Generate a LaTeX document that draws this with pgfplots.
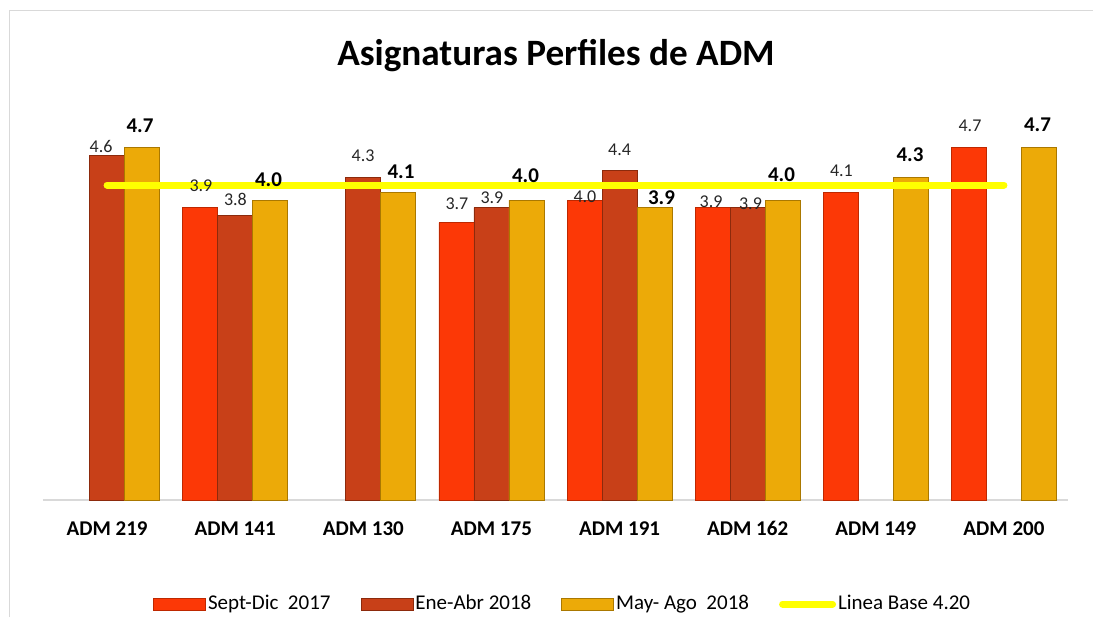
\documentclass[border=0pt]{standalone}
\usepackage{fontspec}
\setmainfont{Carlito}
\usepackage{pgfplots}
\pgfplotsset{compat=1.18}
\definecolor{cSep}{RGB}{252,56,6}
\definecolor{cSepD}{RGB}{190,40,0}
\definecolor{cEne}{RGB}{200,64,24}
\definecolor{cEneD}{RGB}{140,42,12}
\definecolor{cMay}{RGB}{236,170,8}
\definecolor{cMayD}{RGB}{170,120,0}
\definecolor{cBorder}{RGB}{217,217,217}
\definecolor{cLine}{RGB}{255,255,0}
\begin{document}
\begin{tikzpicture}
\useasboundingbox (0,0) rectangle (546.5pt,308.5pt);
\draw[cBorder, line width=0.8pt] (4.75pt,0pt) -- (4.75pt,303.25pt) -- (546.5pt,303.25pt);
\node[font=\bfseries\fontsize{18.6}{20}\selectfont, anchor=base] at (278pt,275.5pt) {Asignaturas Perfiles de ADM};
\begin{axis}[
  at={(21.5pt,58.5pt)}, anchor=south west,
  scale only axis, width=512.5pt, height=195pt,
  xmin=-0.5, xmax=7.5, ymin=0, ymax=5.2,
  axis x line=bottom, axis y line=none,
  x axis line style={cBorder, line width=0.8pt, -},
  xtick={0,...,7},
  xticklabels={ADM 219, ADM 141, ADM 130, ADM 175, ADM 191, ADM 162, ADM 149, ADM 200},
  major tick length=0pt,
  xticklabel style={font=\bfseries\fontsize{10.5}{12}\selectfont, anchor=base, yshift=-17.5pt},
  ytick=\empty,
  clip=false,
  legend columns=4,
  legend style={draw=none, fill=none, at={(0.507,-0.267)}, anchor=center,
    font=\fontsize{10.5}{12}\selectfont,
    nodes={inner xsep=1pt, inner ysep=1pt},
    /tikz/every even column/.append style={column sep=14pt}},
]
\addplot[ybar, bar width=17.5pt, bar shift=-17.5pt, fill=cSep, draw=cSepD, line width=0.4pt,
  legend image code/.code={\draw[cSepD, fill=cSep, line width=0.4pt] (0pt,-3pt) rectangle (26pt,3pt);}]
  coordinates {(1,3.9) (3,3.7) (4,4.0) (5,3.9) (6,4.1) (7,4.7)};
\addlegendentry{Sept-Dic~ 2017}
\addplot[ybar, bar width=17.5pt, bar shift=0pt, fill=cEne, draw=cEneD, line width=0.4pt,
  legend image code/.code={\draw[cEneD, fill=cEne, line width=0.4pt] (0pt,-3pt) rectangle (26pt,3pt);}]
  coordinates {(0,4.6) (1,3.8) (2,4.3) (3,3.9) (4,4.4) (5,3.9)};
\addlegendentry{Ene-Abr 2018}
\addplot[ybar, bar width=17.5pt, bar shift=17.5pt, fill=cMay, draw=cMayD, line width=0.4pt,
  legend image code/.code={\draw[cMayD, fill=cMay, line width=0.4pt] (0pt,-3pt) rectangle (26pt,3pt);}]
  coordinates {(0,4.7) (1,4.0) (2,4.1) (3,4.0) (4,3.9) (5,4.0) (6,4.3) (7,4.7)};
\addlegendentry{May- Ago~ 2018}
\addplot[cLine, line width=3.5pt, line cap=round, mark=none,
  legend image code/.code={\draw[cLine, line width=3.5pt, line cap=round] (1.75pt,0pt) -- (26.75pt,0pt);}]
  coordinates {(0,4.2) (1,4.2) (2,4.2) (3,4.2) (4,4.2) (5,4.2) (6,4.2) (7,4.2)};
\addlegendentry{Linea Base 4.20}
% normal data labels
\addplot[forget plot, draw=none, mark=none, nodes near coords, point meta=explicit symbolic,
  nodes near coords align={center},
  every node near coord/.append style={font=\fontsize{9}{10}\selectfont, text=black!85, inner sep=0pt}]
  coordinates {(-0.047,4.707) [4.6] (0.733,4.187) [3.9] (1.002,4.007) [3.8] (1.998,4.587) [4.3]
  (2.731,3.953) [3.7] (3.004,4.033) [3.9] (3.730,4.047) [4.0] (4.000,4.673) [4.4]
  (4.714,3.980) [3.9] (5.022,3.947) [3.9] (5.732,4.387) [4.1] (6.735,4.987) [4.7]};
% bold data labels
\addplot[forget plot, draw=none, mark=none, nodes near coords, point meta=explicit symbolic,
  nodes near coords align={center},
  every node near coord/.append style={font=\bfseries\fontsize{10.5}{12}\selectfont, text=black, inner sep=0pt}]
  coordinates {(0.257,4.987) [4.7] (1.260,4.267) [4.0] (2.294,4.373) [4.1] (3.266,4.320) [4.0]
  (4.327,4.027) [3.9] (5.264,4.340) [4.0] (6.267,4.600) [4.3] (7.262,5.000) [4.7]};
\end{axis}
\end{tikzpicture}
\end{document}
